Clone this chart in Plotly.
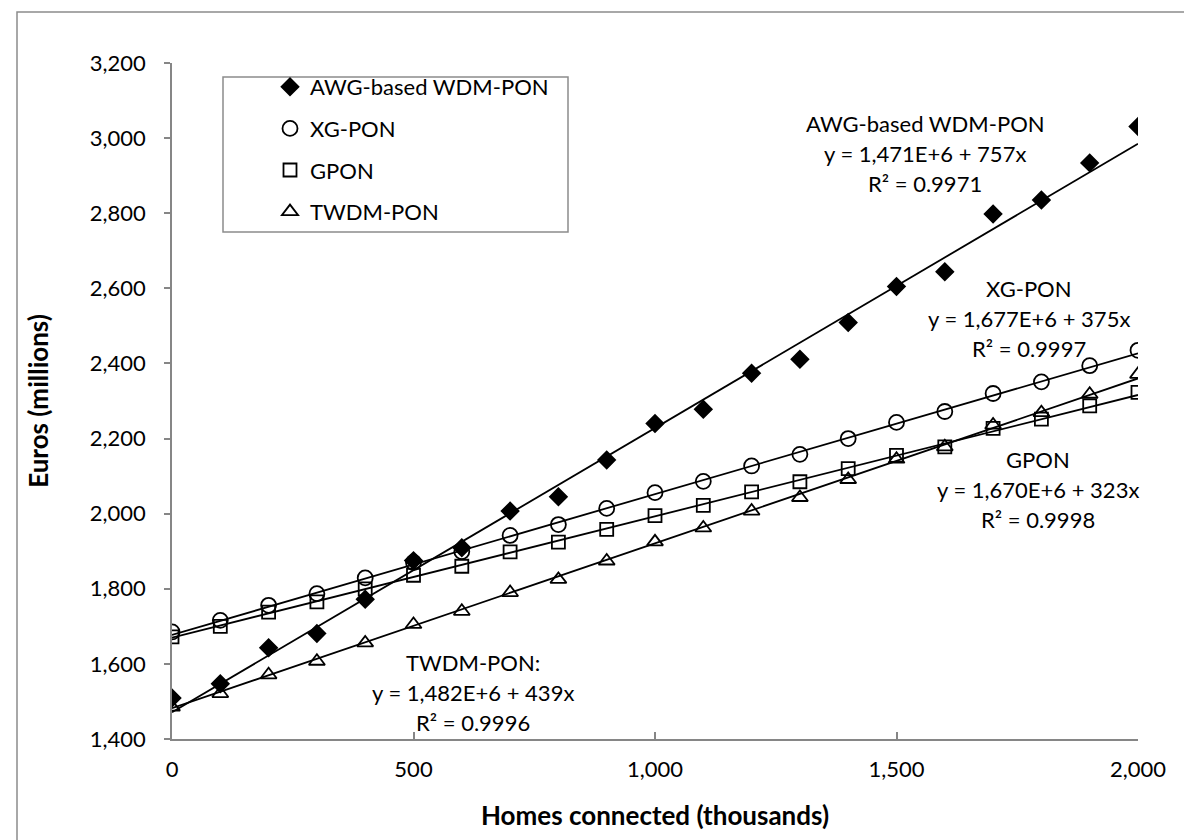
import plotly.graph_objects as go

# ---- data (millions of euros vs thousands of homes) ----
homes = [0, 100, 200, 300, 400, 500, 600, 700, 800, 900, 1000,
         1100, 1200, 1300, 1400, 1500, 1600, 1700, 1800, 1900, 2000]

awg = [1509, 1547, 1643, 1681, 1772, 1875, 1909, 2007, 2045, 2143, 2240,
       2278, 2374, 2411, 2509, 2605, 2644, 2798, 2835, 2934, 3031]
xgpon = [1685, 1716, 1756, 1787, 1829, 1870, 1899, 1942, 1971, 2014, 2056,
         2086, 2127, 2158, 2200, 2243, 2272, 2320, 2351, 2394, 2435]
gpon = [1672, 1700, 1738, 1765, 1800, 1836, 1860, 1898, 1924, 1958, 1995,
        2022, 2058, 2085, 2120, 2155, 2178, 2227, 2252, 2287, 2323]
twdm = [1485, 1521, 1571, 1607, 1656, 1705, 1740, 1790, 1825, 1874, 1925,
        1962, 2007, 2043, 2091, 2145, 2178, 2236, 2269, 2318, 2371]

series_names = ["AWG-based WDM-PON", "XG-PON", "GPON", "TWDM-PON"]
series_values = [awg, xgpon, gpon, twdm]
symbols = ["diamond", "circle-open", "square-open", "triangle-up-open"]
marker_sizes = [13, 15, 13, 14]

# linear trend fits: intercept (millions), slope (euros per home)
trend_intercepts = [1471, 1677, 1670, 1482]
trend_slopes = [757, 375, 323, 439]
trend_labels = [
    ["AWG-based WDM-PON", "y = 1,471E+6 + 757x", "R² = 0.9971"],
    ["XG-PON", "y = 1,677E+6 + 375x", "R² = 0.9997"],
    ["GPON", "y = 1,670E+6 + 323x", "R² = 0.9998"],
    ["TWDM-PON:", "y = 1,482E+6 + 439x", "R² = 0.9996"],
]

FONT = "Lato"

# ---- layout geometry (pixels) ----
W, H = 1192, 840
L, R, T, B = 164, 1130, 55, 731
pw, ph = R - L, B - T


def px_x(px):
    return (px - L) / pw


def px_y(py):
    return (B - py) / ph


fig = go.Figure()

x_ends = [homes[0], homes[-1]]
for i, name in enumerate(series_names):
    fig.add_trace(go.Scatter(
        x=x_ends,
        y=[trend_intercepts[i] + trend_slopes[i] * x / 1000 for x in x_ends],
        mode="lines", line=dict(color="black", width=1.8),
        showlegend=False, hoverinfo="skip"))

for i, name in enumerate(series_names):
    fig.add_trace(go.Scatter(
        x=homes, y=series_values[i], mode="markers", name=name,
        legendgroup=name,
        marker=dict(symbol=symbols[i], size=marker_sizes[i], color="black",
                    line=dict(color="black", width=1.8))))

# trend-line labels (centre x, first-line y in pixels)
label_pos = [(917, 115), (1021, 280), (1030, 451), (465, 654)]
for (cx, cy), lines in zip(label_pos, trend_labels):
    for k, t in enumerate(lines):
        fig.add_annotation(x=px_x(cx), y=px_y(cy + k * 30), xref="paper", yref="paper",
                           text=t, showarrow=False, xanchor="center", yanchor="middle",
                           font=dict(family=FONT, size=22, color="black"))

# outer chart border and legend box
fig.add_shape(type="rect", xref="paper", yref="paper",
              x0=px_x(9), x1=px_x(1187), y0=px_y(836), y1=px_y(4),
              line=dict(color="#8c8c8c", width=1.5))
fig.add_shape(type="rect", xref="paper", yref="paper",
              x0=px_x(215), x1=px_x(560), y0=px_y(224), y1=px_y(69),
              line=dict(color="#8c8c8c", width=1.5))

axis_col = "#868686"
fig.update_layout(
    width=W, height=H,
    margin=dict(l=L, r=W - R, t=T, b=H - B),
    paper_bgcolor="white", plot_bgcolor="white",
    font=dict(family=FONT, size=22, color="black"),
    showlegend=True,
    legend=dict(x=px_x(262), y=px_y(58), xanchor="left", yanchor="top",
                bgcolor="rgba(0,0,0,0)", borderwidth=0,
                font=dict(family=FONT, size=22, color="black"),
                tracegroupgap=10, itemsizing="trace"),
    xaxis=dict(range=[0, 2000], tickvals=[0, 500, 1000, 1500, 2000],
               tickformat=",", showgrid=False, zeroline=False,
               showline=True, linecolor=axis_col, linewidth=1.5,
               ticks="inside", ticklen=7, tickcolor=axis_col, tickwidth=1.5,
               ticklabelstandoff=10,
               tickfont=dict(family=FONT, size=22, color="black"),
               title=dict(text="<b>Homes connected (thousands)</b>",
                          font=dict(family=FONT, size=26, color="black"), standoff=26)),
    yaxis=dict(range=[1400, 3200], dtick=200, tickformat=",",
               showgrid=False, zeroline=False,
               showline=True, linecolor=axis_col, linewidth=1.5,
               ticks="outside", ticklen=6, tickcolor=axis_col, tickwidth=1.5,
               ticklabelstandoff=14,
               tickfont=dict(family=FONT, size=22, color="black"),
               title=dict(text="<b>Euros (millions)</b>",
                          font=dict(family=FONT, size=26, color="black"), standoff=34)),
)

fig.write_html("out.html")
